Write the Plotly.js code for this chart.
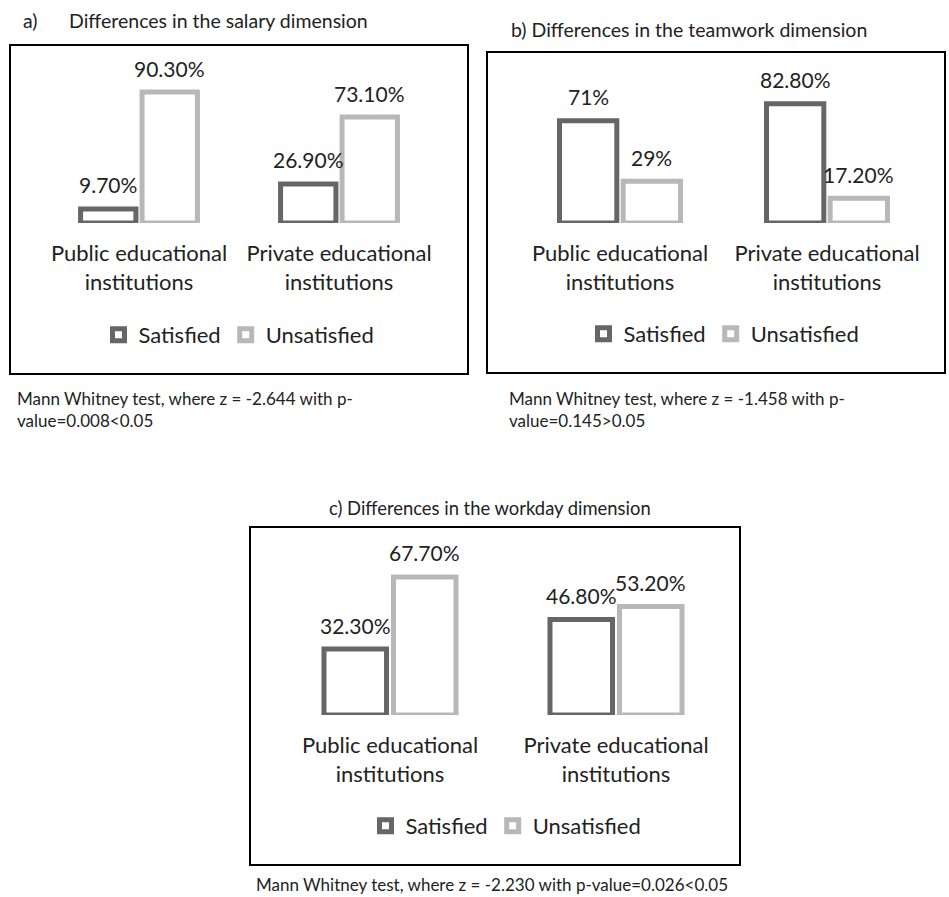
<!DOCTYPE html>
<html>
<head>
<meta charset="utf-8">
<script src="https://cdn.plot.ly/plotly-3.0.1.min.js"></script>
<style>html,body{margin:0;padding:0;background:#fff;}#chart{width:949px;height:897px;}</style>
</head>
<body>
<div id="chart"></div>
<script>
// ---- data ----
const categories = ["Public educational institutions", "Private educational institutions"];
const categoryTickText = ["Public educational<br>institutions", "Private educational<br>institutions"];
const seriesNames = ["Satisfied", "Unsatisfied"];

const salarySatisfied = [9.7, 26.9];
const salaryUnsatisfied = [90.3, 73.1];
const salarySatisfiedLabels = ["9.70%", "26.90%"];
const salaryUnsatisfiedLabels = ["90.30%", "73.10%"];

const teamworkSatisfied = [71, 82.8];
const teamworkUnsatisfied = [29, 17.2];
const teamworkSatisfiedLabels = ["71%", "82.80%"];
const teamworkUnsatisfiedLabels = ["29%", "17.20%"];

const workdaySatisfied = [32.3, 46.8];
const workdayUnsatisfied = [67.7, 53.2];
const workdaySatisfiedLabels = ["32.30%", "46.80%"];
const workdayUnsatisfiedLabels = ["67.70%", "53.20%"];

const panelLetters = ["a)", "b)", "c)"];
const panelTitles = [
  "Differences in the salary dimension",
  "Differences in the teamwork dimension",
  "Differences in the workday dimension"
];
const panelNotes = [
  "Mann Whitney test, where z = -2.644 with p-<br>value=0.008<0.05",
  "Mann Whitney test, where z = -1.458 with p-<br>value=0.145>0.05",
  "Mann Whitney test, where z = -2.230 with p-value=0.026<0.05"
];

// ---- layout helpers ----
const W = 949, H = 897;
const px = x => x / W;
const py = y => 1 - y / H;
const FONT = "Lato, 'Open Sans', sans-serif";
const DARK = "#666666", LIGHT = "#b8b8b8", TXT = "#222222";
const BIG = 22;
const VAL = 21;
const BARGAP = 0.385;

function barTrace(name, x, y, color, xa, ya, legend) {
  return {
    type: "bar", name: name, x: x, y: y,
    marker: {color: "#ffffff", line: {color: color, width: 5}},
    xaxis: xa, yaxis: ya, legend: legend, hoverinfo: "skip"
  };
}

const panels = [
  {xa: "x", ya: "y", sat: salarySatisfied, uns: salaryUnsatisfied, satL: salarySatisfiedLabels, unsL: salaryUnsatisfiedLabels, legend: "legend"},
  {xa: "x2", ya: "y2", sat: teamworkSatisfied, uns: teamworkUnsatisfied, satL: teamworkSatisfiedLabels, unsL: teamworkUnsatisfiedLabels, legend: "legend2"},
  {xa: "x3", ya: "y3", sat: workdaySatisfied, uns: workdayUnsatisfied, satL: workdaySatisfiedLabels, unsL: workdayUnsatisfiedLabels, legend: "legend3"}
];

const data = [];
panels.forEach(p => {
  data.push(barTrace(seriesNames[0], categories, p.sat, DARK, p.xa, p.ya, p.legend));
  data.push(barTrace(seriesNames[1], categories, p.uns, LIGHT, p.xa, p.ya, p.legend));
});

// value labels placed at each bar's top, through the axes' own scales
const off = (1 - BARGAP) / 4;
const valueAnns = [];
panels.forEach(p => {
  [[p.sat, p.satL, -off], [p.uns, p.unsL, off]].forEach(([vals, labs, dx]) => {
    vals.forEach((v, i) => {
      valueAnns.push({
        text: labs[i], xref: p.xa, yref: p.ya, x: i + dx, y: v,
        xanchor: "center", yanchor: "middle", yshift: 24, showarrow: false,
        font: {family: FONT, size: VAL, color: TXT}
      });
    });
  });
});

function xAxis(d0, d1, anchor) {
  return {
    domain: [px(d0), px(d1)], anchor: anchor, type: "category",
    range: [-0.5, 1.5], fixedrange: true,
    tickvals: categories, ticktext: categoryTickText,
    showline: false, showgrid: false, zeroline: false, ticks: "",
    ticklabelstandoff: 15,
    tickfont: {family: FONT, size: BIG, color: TXT}
  };
}
function yAxis(base, top, anchor) {
  return {
    domain: [py(base), py(top)], anchor: anchor, range: [0, 100],
    visible: false, fixedrange: true
  };
}
function legendAt(cx, cy) {
  return {
    orientation: "h", x: px(cx), xanchor: "center", y: py(cy), yanchor: "middle",
    font: {family: FONT, size: BIG, color: TXT}, bgcolor: "rgba(0,0,0,0)",
    traceorder: "normal", itemclick: false, itemdoubleclick: false
  };
}

function box(x0, y0, x1, y1) {
  return {type: "rect", xref: "paper", yref: "paper",
    x0: px(x0), x1: px(x1), y0: py(y1), y1: py(y0),
    line: {color: "#000000", width: 2}, fillcolor: "rgba(0,0,0,0)", layer: "below"};
}
function ann(text, x, y, size, xanchor) {
  return {text: text, xref: "paper", yref: "paper", x: px(x), y: py(y),
    xanchor: xanchor, yanchor: "middle", align: "left", showarrow: false,
    font: {family: FONT, size: size, color: TXT}};
}

const TS = 19.5, NS = 17;
const layout = {
  width: W, height: H, margin: {l: 0, r: 0, t: 0, b: 0},
  paper_bgcolor: "#ffffff", plot_bgcolor: "rgba(0,0,0,0)",
  barmode: "group", bargap: BARGAP, bargroupgap: 0.1,
  font: {family: FONT, color: TXT},
  xaxis: xAxis(39, 439, "y"),
  yaxis: yAxis(223, 78, "x"),
  xaxis2: xAxis(516.5, 930.5, "y2"),
  yaxis2: yAxis(223, 79, "x2"),
  xaxis3: xAxis(277, 729, "y3"),
  yaxis3: yAxis(715, 511, "x3"),
  legend: legendAt(239, 335),
  legend2: legendAt(724, 334),
  legend3: legendAt(506, 826),
  shapes: [box(10, 45, 468, 374), box(487, 52, 945, 373), box(250, 527, 740, 865)],
  annotations: valueAnns.concat([
    ann(panelLetters[0], 21, 21, TS, "left"),
    ann(panelTitles[0], 67, 21, TS, "left"),
    ann(panelLetters[1] + " " + panelTitles[1], 509, 29, TS, "left"),
    ann(panelLetters[2] + " " + panelTitles[2], 327, 508, 18.4, "left"),
    ann(panelNotes[0], 15, 409, NS, "left"),
    ann(panelNotes[1], 507, 409, NS, "left"),
    ann(panelNotes[2], 492, 884, NS, "center")
  ])
};

Plotly.newPlot("chart", data, layout, {displayModeBar: false, staticPlot: true});
</script>
</body>
</html>
